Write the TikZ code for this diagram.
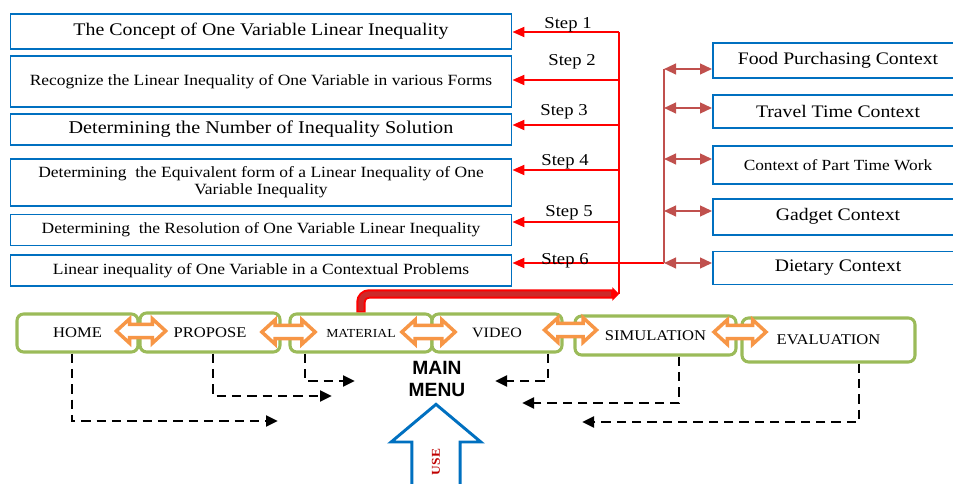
\documentclass[tikz,border=0pt]{standalone}
\usepackage{fontspec}
\setmainfont{Liberation Serif}[FakeStretch=1.12]
\newfontfamily\headfont{Liberation Sans}
\usetikzlibrary{shapes,arrows.meta,positioning}
\definecolor{boxblue}{HTML}{0070C0}
\definecolor{menugreen}{HTML}{9BBB59}
\definecolor{linkorange}{HTML}{F79646}
\definecolor{ctxred}{HTML}{C0504D}
\definecolor{barred}{HTML}{CC2A2A}
\definecolor{usered}{HTML}{C00000}
\tikzstyle{lesson} = [rectangle, draw=boxblue, line width=1.4pt, fill=white,
    minimum width=375.75pt, align=center, inner sep=0pt,
    font=\fontsize{11.7}{12.8}\selectfont]
\tikzstyle{context} = [rectangle, draw=boxblue, line width=1.4pt, fill=white,
    minimum width=187.5pt, align=center, inner sep=0pt,
    font=\fontsize{13.2}{15}\selectfont]
\tikzstyle{menu} = [rectangle, draw=menugreen, line width=2.3pt, fill=white,
    rounded corners=5pt, inner sep=0pt, font=\fontsize{11.1}{13}\selectfont]
\tikzstyle{link} = [double arrow, draw=linkorange, line width=2.6pt, fill=white,
    minimum height=37pt, inner xsep=0pt, inner ysep=3.7pt,
    double arrow head extend=4.2pt, double arrow tip angle=85]
\tikzstyle{steplabel} = [anchor=base, inner sep=0pt, font=\fontsize{12.5}{14}\selectfont]
\tikzstyle{stepline} = [draw=red, line width=1.5pt, -{Triangle[length=9pt,width=7.5pt]}]
\tikzstyle{ctxline} = [draw=ctxred, line width=1.6pt,
    {Triangle[length=9pt,width=8pt]}-{Triangle[length=9pt,width=8pt]}]
\tikzstyle{flow} = [draw=black, line width=2.2pt, dash pattern=on 7pt off 4.5pt,
    -{Triangle[length=9pt,width=8pt]}]
\begin{document}
\begin{tikzpicture}[x=0.75pt, y=-0.75pt]
    \useasboundingbox (0,0) rectangle (953,484);

    % lessons
    \node[lesson, minimum height=26.25pt, font=\fontsize{13.3}{15}\selectfont] (concept) at (261,31.5) {The Concept of One Variable Linear Inequality};
    \node[lesson, minimum height=38.25pt, below=3.75pt of concept] (recognize) {Recognize the Linear Inequality of One Variable in various Forms};
    \node[lesson, minimum height=23.25pt, below=3.75pt of recognize, font=\fontsize{13.5}{15}\selectfont] (number) {Determining the Number of Inequality Solution};
    \node[lesson, minimum height=35.25pt, below=9pt of number] (equivalent) {Determining\ \ the Equivalent form of a Linear Inequality of One\\Variable Inequality};
    \node[lesson, minimum height=23.25pt, below=5.25pt of equivalent] (resolution) {Determining\ \ the Resolution of One Variable Linear Inequality};
    \node[lesson, minimum height=23.25pt, below=6pt of resolution] (problems) {Linear inequality of One Variable in a Contextual Problems};

    % contexts
    \node[context, minimum height=26.25pt] (food) at (838,60.5) {Food Purchasing Context};
    \node[context, minimum height=24.75pt, below=11.25pt of food] (travel) {Travel Time Context};
    \node[context, minimum height=28.5pt, below=12pt of travel, font=\fontsize{11.6}{13}\selectfont] (parttime) {Context of Part Time Work};
    \node[context, minimum height=27pt, below=9.75pt of parttime] (gadget) {Gadget Context};
    \node[context, minimum height=24.75pt, below=11.25pt of gadget] (dietary) {Dietary Context};

    % step spine
    \coordinate (s1) at (619,32);
    \coordinate (s2) at (619,80);
    \coordinate (s3) at (619,125);
    \coordinate (s4) at (619,170);
    \coordinate (s5) at (619,222);
    \coordinate (spinebot) at (619,294);
    \coordinate (c1) at (664,69);
    \coordinate (c2) at (664,108);
    \coordinate (c3) at (664,159);
    \coordinate (c4) at (664,211);
    \coordinate (cbot) at (664,263);

    \path[draw=red, line width=1.5pt] (s1) -- (spinebot);
    \path[stepline] (s1) -- (s1 -| concept.east);
    \path[stepline] (s2) -- (s2 -| recognize.east);
    \path[stepline] (s3) -- (s3 -| number.east);
    \path[stepline] (s4) -- (s4 -| equivalent.east);
    \path[stepline] (s5) -- (s5 -| resolution.east);
    \path[stepline] (cbot) -- (cbot -| problems.east);

    \node[steplabel] (step1) at (568,29) {Step 1};
    \node[steplabel] (step2) at (572,66) {Step 2};
    \node[steplabel] (step3) at (564,116) {Step 3};
    \node[steplabel] (step4) at (565,166) {Step 4};
    \node[steplabel] (step5) at (569,216.5) {Step 5};
    \node[steplabel] (step6) at (565,265) {Step 6};

    \path[draw=ctxred, line width=1.5pt] (c1) -- (cbot);
    \path[ctxline] (c1) -- (c1 -| food.west);
    \path[ctxline] (c2) -- (c2 -| travel.west);
    \path[ctxline] (c3) -- (c3 -| parttime.west);
    \path[ctxline] (c4) -- (c4 -| gadget.west);
    \path[ctxline] (cbot) -- (cbot -| dietary.west);

    % menu row
    \node[menu, minimum width=90.75pt, minimum height=28.5pt] (home) at (77.5,333) {HOME};
    \node[menu, minimum width=105pt, minimum height=29.25pt] (propose) at (210,332.5) {PROPOSE};
    \node[menu, minimum width=106.5pt, minimum height=28.5pt, font=\fontsize{9.2}{11}\selectfont] (material) at (361,333) {MATERIAL};
    \node[menu, minimum width=97.5pt, minimum height=28.5pt, font=\fontsize{10.7}{12}\selectfont] (video) at (497,333) {VIDEO};
    \node[menu, minimum width=120.75pt, minimum height=29.25pt] (simulation) at (655.5,335.5) {SIMULATION};
    \node[menu, minimum width=129.75pt, minimum height=33pt] (evaluation) at (828.5,340) {EVALUATION};

    \node[link] (link1) at (141,331) {};
    \node[link, minimum height=40pt] (link2) at (288.5,332) {};
    \node[link, minimum height=40pt] (link3) at (428.5,332) {};
    \node[link, minimum height=39pt] (link4) at (570.5,330) {};
    \node[link, minimum height=39pt] (link5) at (740,332) {};

    % red bar to the steps
    \path[draw=red, line width=7pt, rounded corners=6pt, -{Triangle[length=5pt,width=10pt]}] (material.north) |- (spinebot);
    \path[draw=barred, line width=4pt, rounded corners=6pt, shorten >=6pt, shorten <=1pt] (material.north) |- (spinebot);

    % returns to main menu
    \coordinate (hometurn) at (72,421);
    \coordinate (homeend) at (278,421);
    \coordinate (proposeturn) at (213,396);
    \coordinate (proposeend) at (332,396);
    \coordinate (materialturn) at (305,381);
    \coordinate (materialend) at (355,381);
    \coordinate (videoturn) at (548,381);
    \coordinate (videoend) at (495,381);
    \coordinate (simturn) at (679,403);
    \coordinate (simend) at (522,403);
    \coordinate (evalturn) at (859,422);
    \coordinate (evalend) at (582,422);

    \path[flow] (home.south -| hometurn) -- (hometurn) -- (homeend);
    \path[flow] (propose.south -| proposeturn) -- (proposeturn) -- (proposeend);
    \path[flow] (material.south -| materialturn) -- (materialturn) -- (materialend);
    \path[flow] (video.south -| videoturn) -- (videoturn) -- (videoend);
    \path[flow] (simulation.south -| simturn) -- (simturn) -- (simend);
    \path[flow] (evaluation.south -| evalturn) -- (evalturn) -- (evalend);

    \node[align=center, inner sep=0pt, font=\fontsize{14.4}{16}\headfont\bfseries] (mainmenu) at (437,379) {MAIN\\MENU};

    \node[single arrow, draw=boxblue, line width=2.2pt, fill=white, rotate=90,
        minimum height=71.25pt, inner xsep=0pt, inner ysep=14pt,
        single arrow head extend=15.5pt, single arrow tip angle=100, text=usered,
        font=\fontsize{9}{10}\selectfont\bfseries] (use) at (436,462) {USE};
\end{tikzpicture}
\end{document}
